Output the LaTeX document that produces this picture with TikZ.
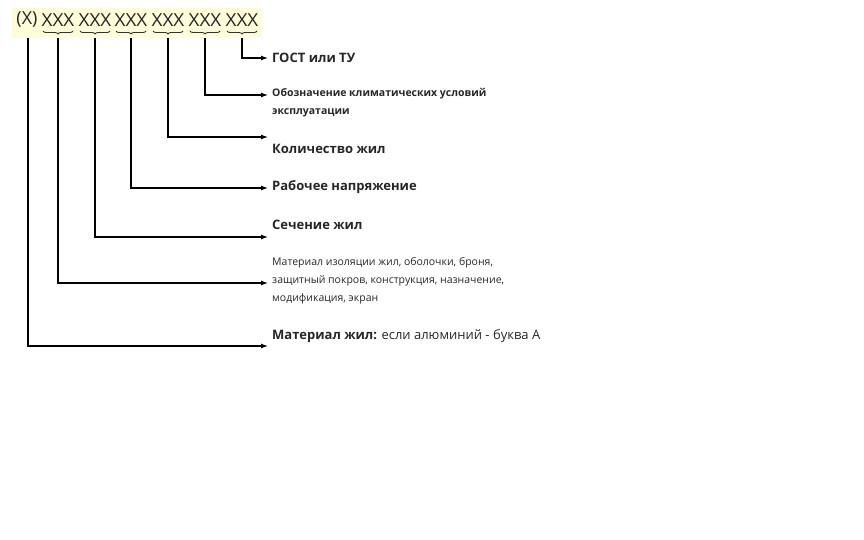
\documentclass[tikz,border=0pt]{standalone}
\usepackage{fontspec}
\setmainfont{Open Sans}
\usetikzlibrary{decorations.pathreplacing,arrows.meta}
\begin{document}
\begin{tikzpicture}[x=1pt,y=-1pt,
  lbl/.style={anchor=west,inner sep=0pt,font=\fontsize{13}{15}\selectfont\bfseries,text=black!85},
  sml/.style={anchor=west,inner sep=0pt,font=\fontsize{10.5}{18}\selectfont\bfseries,align=left,text=black!85},
  grp/.style={inner sep=0pt,font=\fontsize{18}{20}\selectfont,text=black!85},
  conn/.style={line width=1.2pt,-{Latex[length=7pt,width=5pt]}},
  br/.style={decorate,decoration={brace,mirror,amplitude=3pt},line width=0.9pt,draw=black!80}]
\useasboundingbox (0,0) rectangle (864,540);
\fill[yellow!15] (12,8) rectangle (262,38);
\node[grp] (g0) at (27,20) {(Х)};
\foreach \i/\x in {1/58,2/95,3/131,4/168,5/205,6/242}{
  \node[grp,xscale=1.05] (g\i) at (\x,20) {XXX};
  \draw[br] (\x-15,31) -- (\x+15,31);
}
\coordinate (t0) at (28,38);
\foreach \i/\x in {1/58,2/95,3/131,4/168,5/205,6/242}{\coordinate (t\i) at (\x,38);}
\node[lbl] (a6) at (272,58) {ГОСТ или ТУ};
\node[sml] (a5) at (272,103) {Обозначение климатических условий\\эксплуатации};
\node[lbl] (a4) at (272,149) {Количество жил};
\node[lbl] (a3) at (272,187) {Рабочее напряжение};
\node[lbl] (a2) at (272,225) {Сечение жил};
\node[sml] (a1) at (272,281) {\fontseries{m}\selectfont Материал изоляции жил, оболочки, броня,\\\fontseries{m}\selectfont защитный покров, конструкция, назначение,\\\fontseries{m}\selectfont модификация, экран};
\node[lbl] (a0) at (272,336) {Материал жил: {\mdseries если алюминий - буква А}};
\draw[conn] (t6) |- (268,58);
\draw[conn] (t5) |- (268,95);
\draw[conn] (t4) |- (268,137);
\draw[conn] (t3) |- (268,188);
\draw[conn] (t2) |- (268,237);
\draw[conn] (t1) |- (268,283);
\draw[conn] (t0) |- (268,346);
\end{tikzpicture}
\end{document}
